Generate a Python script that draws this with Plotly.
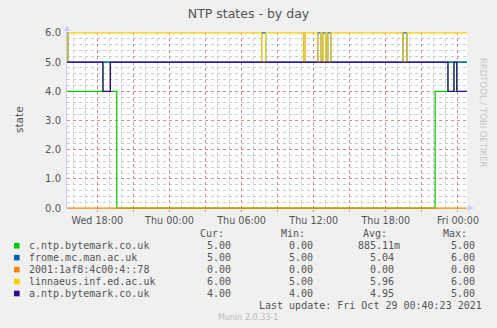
import plotly.graph_objects as go

# ---------------- data ----------------
names = ["c.ntp.bytemark.co.uk", "frome.mc.man.ac.uk", "2001:1af8:4c00:4::78",
         "linnaeus.inf.ed.ac.uk", "a.ntp.bytemark.co.uk"]
colors = ["#00CC00", "#0066B3", "#FF8000", "#FFCC00", "#330099"]

green_t = ["2021-10-27 15:28", "2021-10-27 18:28", "2021-10-27 19:05", "2021-10-27 19:37",
           "2021-10-28 22:06", "2021-10-28 23:10", "2021-10-28 23:40", "2021-10-28 23:54",
           "2021-10-29 00:45"]
green_v = [4, 5, 4, 0, 4, 5, 4, 5, 5]

blue_t = ["2021-10-27 15:28", "2021-10-27 15:33", "2021-10-28 07:40", "2021-10-28 08:00",
          "2021-10-28 11:10", "2021-10-28 11:15", "2021-10-28 12:20", "2021-10-28 12:35",
          "2021-10-28 12:45", "2021-10-28 13:00", "2021-10-28 13:10", "2021-10-28 13:25",
          "2021-10-28 19:25", "2021-10-28 19:45", "2021-10-29 00:45"]
blue_v = [6, 5, 6, 5, 6, 5, 6, 5, 6, 5, 6, 5, 6, 5, 5]

orange_t = ["2021-10-27 15:28", "2021-10-29 00:45"]
orange_v = [0, 0]

yellow_t = blue_t
yellow_v = [5, 6, 5, 6, 5, 6, 5, 6, 5, 6, 5, 6, 5, 6, 6]

purple_t = ["2021-10-27 15:28", "2021-10-27 18:28", "2021-10-27 19:05", "2021-10-28 23:10",
            "2021-10-28 23:40", "2021-10-28 23:54", "2021-10-29 00:45"]
purple_v = [5, 4, 5, 4, 5, 4, 4]

cur_vals = ["5.00", "5.00", "0.00", "6.00", "4.00"]
min_vals = ["0.00", "5.00", "0.00", "5.00", "4.00"]
avg_vals = ["885.11m", "5.04", "0.00", "5.96", "4.95"]
max_vals = ["5.00", "6.00", "0.00", "6.00", "5.00"]

x_tickvals = ["2021-10-27 18:00", "2021-10-27 21:00", "2021-10-28 00:00", "2021-10-28 03:00",
              "2021-10-28 06:00", "2021-10-28 09:00", "2021-10-28 12:00", "2021-10-28 15:00",
              "2021-10-28 18:00", "2021-10-28 21:00", "2021-10-29 00:00"]
x_ticktext = ["Wed 18:00", "", "Thu 00:00", "", "Thu 06:00", "", "Thu 12:00", "",
              "Thu 18:00", "", "Fri 00:00"]
y_tickvals = [0, 1, 2, 3, 4, 5, 6]
y_ticktext = ["0.0", "1.0", "2.0", "3.0", "4.0", "5.0", "6.0"]

# ---------------- layout geometry ----------------
W, H = 497, 328
L, R, T, B = 67, 467, 32, 209
TXT = "#555555"


def px(x):
    return (x - L) / (R - L)


def py(y):
    return (B - y) / (B - T)


fig = go.Figure()
series = [(green_t, green_v), (blue_t, blue_v), (orange_t, orange_v),
          (yellow_t, yellow_v), (purple_t, purple_v)]
for (t, v), n, c in zip(series, names, colors):
    fig.add_trace(go.Scatter(x=t, y=v, mode="lines", name=n,
                             line=dict(color=c, width=1.2, shape="hv"),
                             showlegend=False, hoverinfo="skip"))

annotations = []
shapes = []

# y axis title
annotations.append(dict(text="state", x=px(11), y=py(119), xref="paper", yref="paper",
                        showarrow=False, textangle=-90,
                        font=dict(family="DejaVu Sans", size=10.5, color=TXT)))
# side text
annotations.append(dict(text="RRDTOOL / TOBI OETIKER", x=px(490), y=py(56),
                        xref="paper", yref="paper", showarrow=False, textangle=90,
                        font=dict(family="DejaVu Sans", size=8.5, color="#c8c8c8")))

mono = dict(family="DejaVu Sans Mono", size=10, color=TXT)
header_y = 233.3
for txt, xr in [("Cur:", 225.5), ("Min:", 306.8), ("Avg:", 388.5), ("Max:", 469.2)]:
    annotations.append(dict(text=txt, x=px(xr), y=py(header_y), xref="paper", yref="paper",
                            xanchor="right", yanchor="middle", showarrow=False, font=mono))

for i, n in enumerate(names):
    ry = 245.7 + 11.95 * i
    shapes.append(dict(type="rect", xref="paper", yref="paper",
                       x0=px(14), x1=px(19.6), y0=py(ry + 2.8), y1=py(ry - 2.8),
                       fillcolor=colors[i], line=dict(width=0)))
    annotations.append(dict(text=n, x=px(26.5), y=py(ry), xref="paper", yref="paper",
                            xanchor="left", yanchor="middle", showarrow=False, font=mono))
    for vals, xr in [(cur_vals, 233.4), (min_vals, 315.2), (avg_vals, 396.2), (max_vals, 477.4)]:
        v = vals[i]
        xx = xr + (6 if v.endswith("m") else 0)
        annotations.append(dict(text=v, x=px(xx), y=py(ry), xref="paper", yref="paper",
                                xanchor="right", yanchor="middle", showarrow=False, font=mono))

annotations.append(dict(text="Last update: Fri Oct 29 00:40:23 2021", x=px(483.5), y=py(305.7),
                        xref="paper", yref="paper", xanchor="right", yanchor="middle",
                        showarrow=False, font=mono))
annotations.append(dict(text="Munin 2.0.33-1", x=px(248), y=py(317.3), xref="paper",
                        yref="paper", xanchor="center", yanchor="middle", showarrow=False,
                        font=dict(family="DejaVu Sans", size=8, color="#bbbbbb")))

# axis arrows
shapes.append(dict(type="path", xref="paper", yref="paper",
                   path=f"M {px(64)} {py(31)} L {px(70)} {py(31)} L {px(67)} {py(25)} Z",
                   fillcolor="#ccccff", line=dict(width=0)))
shapes.append(dict(type="path", xref="paper", yref="paper",
                   path=f"M {px(468)} {py(205)} L {px(468)} {py(211)} L {px(474)} {py(208)} Z",
                   fillcolor="#ccccff", line=dict(width=0)))

MAJ = "rgba(220,100,100,0.6)"
MIN = "#cccccc"
fig.update_layout(
    width=W, height=H,
    margin=dict(l=L, r=W - R, t=T, b=H - B),
    paper_bgcolor="#F0F0F0", plot_bgcolor="#FFFFFF",
    title=dict(text="NTP states - by day", x=0.5, xref="container", xanchor="center",
               y=1 - 13.5 / H, yref="container", yanchor="middle",
               font=dict(family="DejaVu Sans", size=12.5, color=TXT)),
    annotations=annotations, shapes=shapes,
    showlegend=False,
)
fig.update_xaxes(
    type="date", range=["2021-10-27 15:28:30", "2021-10-29 00:45"],
    tickmode="array", tickvals=x_tickvals, ticktext=x_ticktext,
    showgrid=True, gridcolor=MAJ, griddash="dot", gridwidth=1,
    ticks="outside", ticklen=2, tickcolor="rgba(220,90,90,0.7)",
    tickfont=dict(family="DejaVu Sans", size=9.6, color=TXT),
    minor=dict(tickmode="linear", tick0="2021-10-27 15:00", dtick=3600000, showgrid=True,
               gridcolor=MIN, griddash="dot", gridwidth=1),
    showline=False, zeroline=False, fixedrange=True,
)
fig.update_yaxes(
    range=[-0.03, 6.03], tickmode="array", tickvals=y_tickvals, ticktext=y_ticktext,
    showgrid=True, gridcolor=MAJ, griddash="dot", gridwidth=1,
    ticks="outside", ticklen=3, tickcolor="rgba(0,0,0,0)",
    tickfont=dict(family="DejaVu Sans", size=10, color=TXT),
    minor=dict(tickmode="linear", tick0=0, dtick=0.2, showgrid=True,
               gridcolor=MIN, griddash="dot", gridwidth=1),
    showline=True, linecolor="#ccccff", linewidth=1, zeroline=False, fixedrange=True,
)

fig.write_html("out.html", config={"displayModeBar": False})
